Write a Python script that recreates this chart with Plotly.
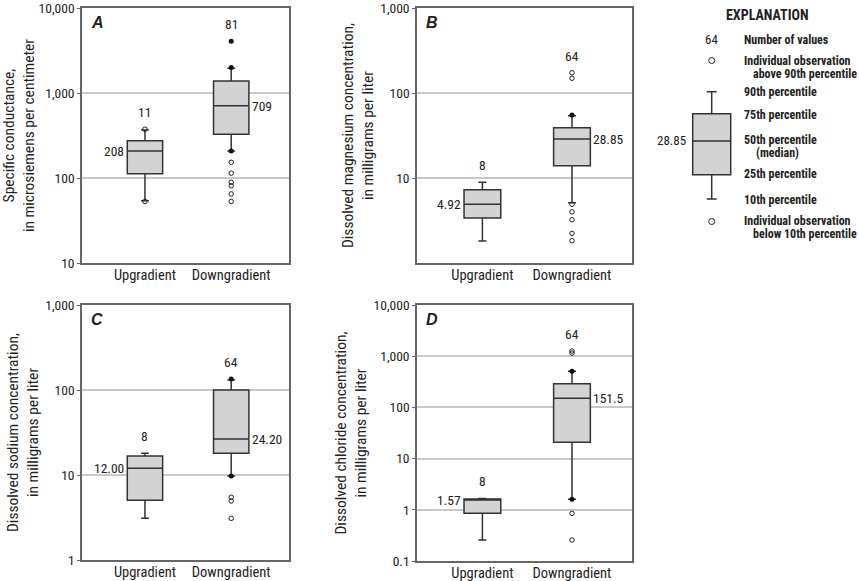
import math
import plotly.graph_objects as go

W, H = 859, 581
FONT = "Liberation Sans Narrow, Arial Narrow, Roboto Condensed, sans-serif"

categories = ["Upgradient", "Downgradient"]

# Panel A: specific conductance (uS/cm)
a_q1 = [112, 327]
a_median = [208, 709]
a_q3 = [275, 1384]
a_p10 = [54, 208]
a_p90 = [367, 1952]
a_n = [11, 81]
a_out_open = [[375, 53], [153, 114, 89, 81, 65, 53]]
a_out_filled = [[], [4056, 2000, 208]]
a_median_label = ["208", "709"]

# Panel B: dissolved magnesium (mg/L)
b_q1 = [3.38, 13.95]
b_median = [4.92, 28.85]
b_q3 = [7.29, 39]
b_p10 = [1.81, 5.1]
b_p90 = [8.9, 54]
b_n = [8, 64]
b_out_open = [[], [173, 149, 4.9, 4.0, 3.23, 2.23, 1.83]]
b_out_filled = [[], [55]]
b_median_label = ["4.92", "28.85"]

# Panel C: dissolved sodium (mg/L)
c_q1 = [5.04, 18]
c_median = [12.0, 26.5]
c_q3 = [16.7, 100]
c_p10 = [3.09, 9.7]
c_p90 = [18, 131]
c_n = [8, 64]
c_out_open = [[], [5.47, 4.94, 3.09]]
c_out_filled = [[], [135, 9.7]]
c_median_label = ["12.00", "24.20"]

# Panel D: dissolved chloride (mg/L)
d_q1 = [0.853, 20.8]
d_median = [1.57, 151.5]
d_q3 = [1.63, 290]
d_p10 = [0.257, 1.6]
d_p90 = [1.67, 506]
d_n = [8, 64]
d_out_open = [[], [1265, 1150, 0.853, 0.257]]
d_out_filled = [[], [506, 1.6]]
d_median_label = ["1.57", "151.5"]

panels = [
    dict(letter="A", q1=a_q1, med=a_median, q3=a_q3, lo=a_p10, hi=a_p90, n=a_n,
         oo=a_out_open, of=a_out_filled, ml=a_median_label,
         yr=(1, 4), tv=[10, 100, 1000, 10000], tt=["10", "100", "1,000", "10,000"],
         title="Specific conductance,<br>in microsiemens per centimeter"),
    dict(letter="B", q1=b_q1, med=b_median, q3=b_q3, lo=b_p10, hi=b_p90, n=b_n,
         oo=b_out_open, of=b_out_filled, ml=b_median_label,
         yr=(0, 3), tv=[10, 100, 1000], tt=["10", "100", "1,000"],
         title="Dissolved magnesium concentration,<br>in milligrams per liter"),
    dict(letter="C", q1=c_q1, med=c_median, q3=c_q3, lo=c_p10, hi=c_p90, n=c_n,
         oo=c_out_open, of=c_out_filled, ml=c_median_label,
         yr=(0, 3), tv=[1, 10, 100, 1000], tt=["1", "10", "100", "1,000"],
         title="Dissolved sodium concentration,<br>in milligrams per liter"),
    dict(letter="D", q1=d_q1, med=d_median, q3=d_q3, lo=d_p10, hi=d_p90, n=d_n,
         oo=d_out_open, of=d_out_filled, ml=d_median_label,
         yr=(-1, 4), tv=[0.1, 1, 10, 100, 1000, 10000],
         tt=["0.1", "1", "10", "100", "1,000", "10,000"],
         title="Dissolved chloride concentration,<br>in milligrams per liter"),
]

# pixel boxes of plot areas (x0, x1, ytop, ybottom)
areas = [(82, 289, 8, 263), (417, 632, 8, 263), (82, 289, 305, 560), (417, 632, 305, 561)]

def px(x):
    return x / W

def py(y):
    return 1 - y / H

BOXW = 0.41
XR = [-0.73, 1.67]
POS = [0, 1]
FILL = "#d3d3d3"
LINE = "#333333"

fig = go.Figure()
layout = dict(width=W, height=H, margin=dict(l=0, r=0, t=0, b=0, autoexpand=False),
              paper_bgcolor="white", plot_bgcolor="white", showlegend=False,
              font=dict(family=FONT, size=14, color="#222"))
annotations = []
shapes = []

for i, (p, (x0, x1, yt, yb)) in enumerate(zip(panels, areas)):
    k = "" if i == 0 else str(i + 1)
    xa, ya = "x" + k, "y" + k
    layout["xaxis" + k] = dict(domain=[px(x0), px(x1)], range=XR, tickvals=POS,
                               ticktext=categories, showgrid=False, zeroline=False,
                               showline=True, mirror=True, linecolor="#666", linewidth=1.5,
                               ticks="", tickfont=dict(size=14.5), anchor=ya, fixedrange=True,
                               automargin=False, ticklabeloverflow="allow",
                               ticklabelstandoff=-2)
    layout["yaxis" + k] = dict(domain=[py(yb), py(yt)], type="log", range=list(p["yr"]),
                               tickvals=p["tv"], ticktext=p["tt"], showgrid=True,
                               gridcolor="#c8c8c8", gridwidth=1.5, zeroline=False,
                               showline=True, mirror=True, linecolor="#666", linewidth=1.5,
                               ticks="outside", ticklen=3, tickcolor="#666",
                               tickfont=dict(size=13.5), anchor=xa, automargin=False,
                               ticklabeloverflow="allow",
                               title=dict(text=p["title"], font=dict(size=15.5), standoff=3))
    for j in range(2):
        fig.add_trace(go.Box(x=[POS[j]], q1=[p["q1"][j]], median=[p["med"][j]], q3=[p["q3"][j]],
                             lowerfence=[p["lo"][j]], upperfence=[p["hi"][j]],
                             width=BOXW, whiskerwidth=0.22, fillcolor=FILL,
                             line=dict(color=LINE, width=1.5), boxpoints=False,
                             xaxis=xa, yaxis=ya, hoverinfo="skip"))
        if p["oo"][j]:
            fig.add_trace(go.Scatter(x=[POS[j]] * len(p["oo"][j]), y=p["oo"][j], mode="markers",
                                     marker=dict(symbol="circle-open", size=4.5, color="#222",
                                                 line=dict(width=1)),
                                     xaxis=xa, yaxis=ya, hoverinfo="skip"))
        if p["of"][j]:
            fig.add_trace(go.Scatter(x=[POS[j]] * len(p["of"][j]), y=p["of"][j], mode="markers",
                                     marker=dict(symbol="circle", size=5, color="#111"),
                                     xaxis=xa, yaxis=ya, hoverinfo="skip"))
        top = max([p["hi"][j]] + p["oo"][j] + p["of"][j])
        annotations.append(dict(x=POS[j], y=math.log10(top), xref=xa, yref=ya,
                                text=str(p["n"][j]), showarrow=False, yshift=17,
                                yanchor="middle", font=dict(size=13.5)))
        if j == 0:
            annotations.append(dict(x=POS[j] - BOXW / 2, y=math.log10(p["med"][j]), xref=xa, yref=ya,
                                    text=p["ml"][j], showarrow=False, xanchor="right", xshift=-1,
                                    yanchor="middle", font=dict(size=13.5)))
        else:
            annotations.append(dict(x=POS[j] + BOXW / 2, y=math.log10(p["med"][j]), xref=xa, yref=ya,
                                    text=p["ml"][j], showarrow=False, xanchor="left", xshift=1,
                                    yanchor="middle", font=dict(size=13.5)))
    annotations.append(dict(x=px(x0 + 7), y=py(yt + 15), xref="paper", yref="paper",
                            text="<b><i>" + p["letter"] + "</i></b>", showarrow=False,
                            xanchor="left", yanchor="middle",
                            font=dict(size=16, family="Liberation Sans, Arial")))

# Explanation key (pixel positions of the drawn key)
key_q = dict(p10=199, q1=174.7, med=141, q3=113.7, p90=91.7)
kx0, kx1, kxc = 692.7, 730.7, 711.7
shapes.append(dict(type="rect", xref="paper", yref="paper", x0=px(kx0), x1=px(kx1),
                   y0=py(key_q["q1"]), y1=py(key_q["q3"]), fillcolor=FILL,
                   line=dict(color=LINE, width=1.5)))
shapes.append(dict(type="line", xref="paper", yref="paper", x0=px(kx0), x1=px(kx1),
                   y0=py(key_q["med"]), y1=py(key_q["med"]), line=dict(color=LINE, width=1.5)))
for a, b in [(key_q["q3"], key_q["p90"]), (key_q["q1"], key_q["p10"])]:
    shapes.append(dict(type="line", xref="paper", yref="paper", x0=px(kxc), x1=px(kxc),
                       y0=py(a), y1=py(b), line=dict(color=LINE, width=1.5)))
for yy in (key_q["p90"], key_q["p10"]):
    shapes.append(dict(type="line", xref="paper", yref="paper", x0=px(kxc - 5), x1=px(kxc + 5),
                       y0=py(yy), y1=py(yy), line=dict(color=LINE, width=1.5)))
for yy in (60.5, 221.5):
    shapes.append(dict(type="circle", xref="paper", yref="paper", x0=px(kxc - 3), x1=px(kxc + 3),
                       y0=py(yy + 3), y1=py(yy - 3), line=dict(color="#222", width=1)))

def ktext(x, y, t, anchor="left", bold=True, size=12):
    annotations.append(dict(x=px(x), y=py(y), xref="paper", yref="paper",
                            text=("<b>" + t + "</b>") if bold else t, showarrow=False,
                            xanchor=anchor, yanchor="middle", font=dict(size=size)))

ktext(767, 15, "EXPLANATION", anchor="center", size=14)
ktext(kxc, 40, "64", anchor="center", bold=False, size=13)
ktext(688, 141, "28.85", anchor="right", bold=False, size=13)
TX = 742
ktext(TX, 40, "Number of values")
ktext(TX, 60.5, "Individual observation")
ktext(TX + 9, 73.5, "above 90th percentile")
ktext(TX, 92, "90th percentile")
ktext(TX, 115, "75th percentile")
ktext(TX, 140, "50th percentile")
ktext(TX + 12, 153, "(median)")
ktext(TX, 174, "25th percentile")
ktext(TX, 200, "10th percentile")
ktext(TX, 221.5, "Individual observation")
ktext(TX + 9, 234, "below 10th percentile")

layout["annotations"] = annotations
layout["shapes"] = shapes
fig.update_layout(**layout)
fig.write_html("out.html")
